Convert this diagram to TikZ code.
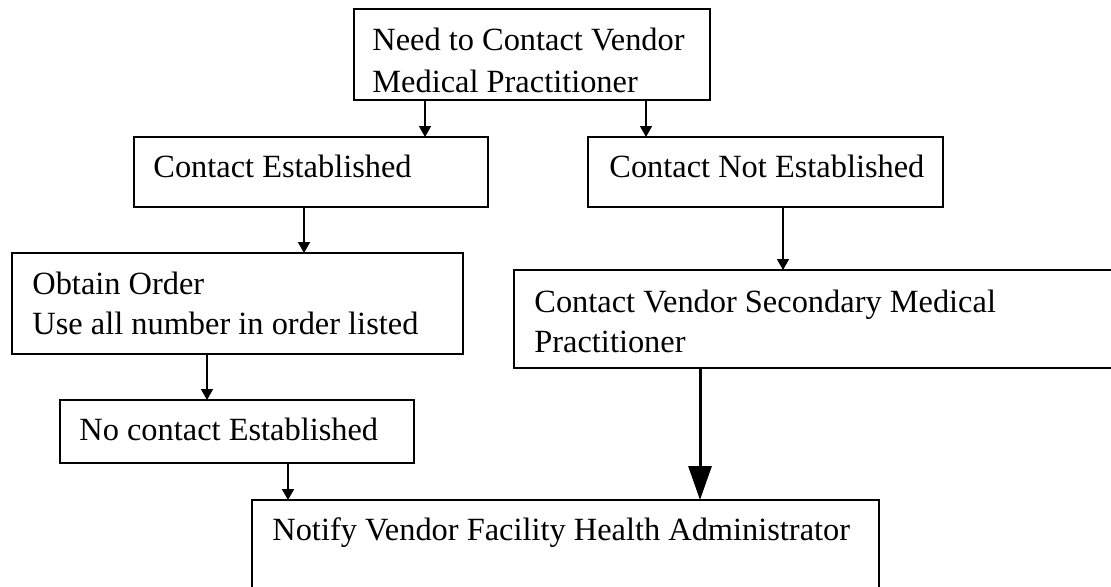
\documentclass[tikz,border=0pt]{standalone}
\usepackage{fontspec}
\setmainfont{Liberation Serif}
\usetikzlibrary{arrows.meta}
\begin{document}
\begin{tikzpicture}[x=0.5pt,y=-0.5pt,
  box/.style={draw, line width=1pt, rectangle, inner sep=0pt, anchor=north west},
  txt/.style={inner sep=0pt, anchor=base west, font=\fontsize{16.2}{20}\selectfont},
  arr/.style={line width=0.75pt, -{Triangle[width=6pt,length=5.5pt]}, shorten >=-0.5pt},
  bigarr/.style={line width=1.5pt, -{Triangle[width=11.5pt,length=17pt]}, shorten >=-0.5pt}]
\clip (0,0) rectangle (1111,586);
\fill[white] (0,0) rectangle (1111,586);
% boxes (size in pt = px/2)
\node[box, minimum width=178pt, minimum height=45.5pt] (b1) at (353,8) {};
\node[box, minimum width=177pt, minimum height=35pt] (b2) at (133,136) {};
\node[box, minimum width=177.5pt, minimum height=35pt] (b3) at (587,136) {};
\node[box, minimum width=225.5pt, minimum height=50.5pt] (b4) at (11,252) {};
\node[box, minimum width=320pt, minimum height=49pt] (b5) at (513,269) {};
\node[box, minimum width=177pt, minimum height=31.5pt] (b6) at (59,399) {};
\node[box, minimum width=313.5pt, minimum height=60pt] (b7) at (251,499) {};
% texts
\node[txt] (t1a) at (372,50) {Need to Contact Vendor};
\node[txt] (t1b) at (372,92) {Medical Practitioner};
\node[txt] (t2) at (153,177) {Contact Established};
\node[txt] (t3) at (609,177) {Contact Not Established};
\node[txt] (t4a) at (32,294) {Obtain Order};
\node[txt] (t4b) at (32,334) {Use all number in order listed};
\node[txt] (t5a) at (534,312) {Contact Vendor Secondary Medical};
\node[txt] (t5b) at (534,352) {Practitioner};
\node[txt] (t6) at (79,440) {No contact Established};
\node[txt] (t7) at (272,540) {Notify Vendor Facility Health Administrator};
% connector x positions
\coordinate (xa) at (425,0);
\coordinate (xb) at (646,0);
\coordinate (xc) at (304,0);
\coordinate (xd) at (783,0);
\coordinate (xe) at (207,0);
\coordinate (xf) at (288,0);
\coordinate (xg) at (700,0);
\draw[arr] (b1.south -| xa) -- (b2.north -| xa);
\draw[arr] (b1.south -| xb) -- (b3.north -| xb);
\draw[arr] (b2.south -| xc) -- (b4.north -| xc);
\draw[arr] (b3.south -| xd) -- (b5.north -| xd);
\draw[arr] (b4.south -| xe) -- (b6.north -| xe);
\draw[arr] (b6.south -| xf) -- (b7.north -| xf);
\draw[bigarr] (b5.south -| xg) -- (b7.north -| xg);
\end{tikzpicture}
\end{document}
